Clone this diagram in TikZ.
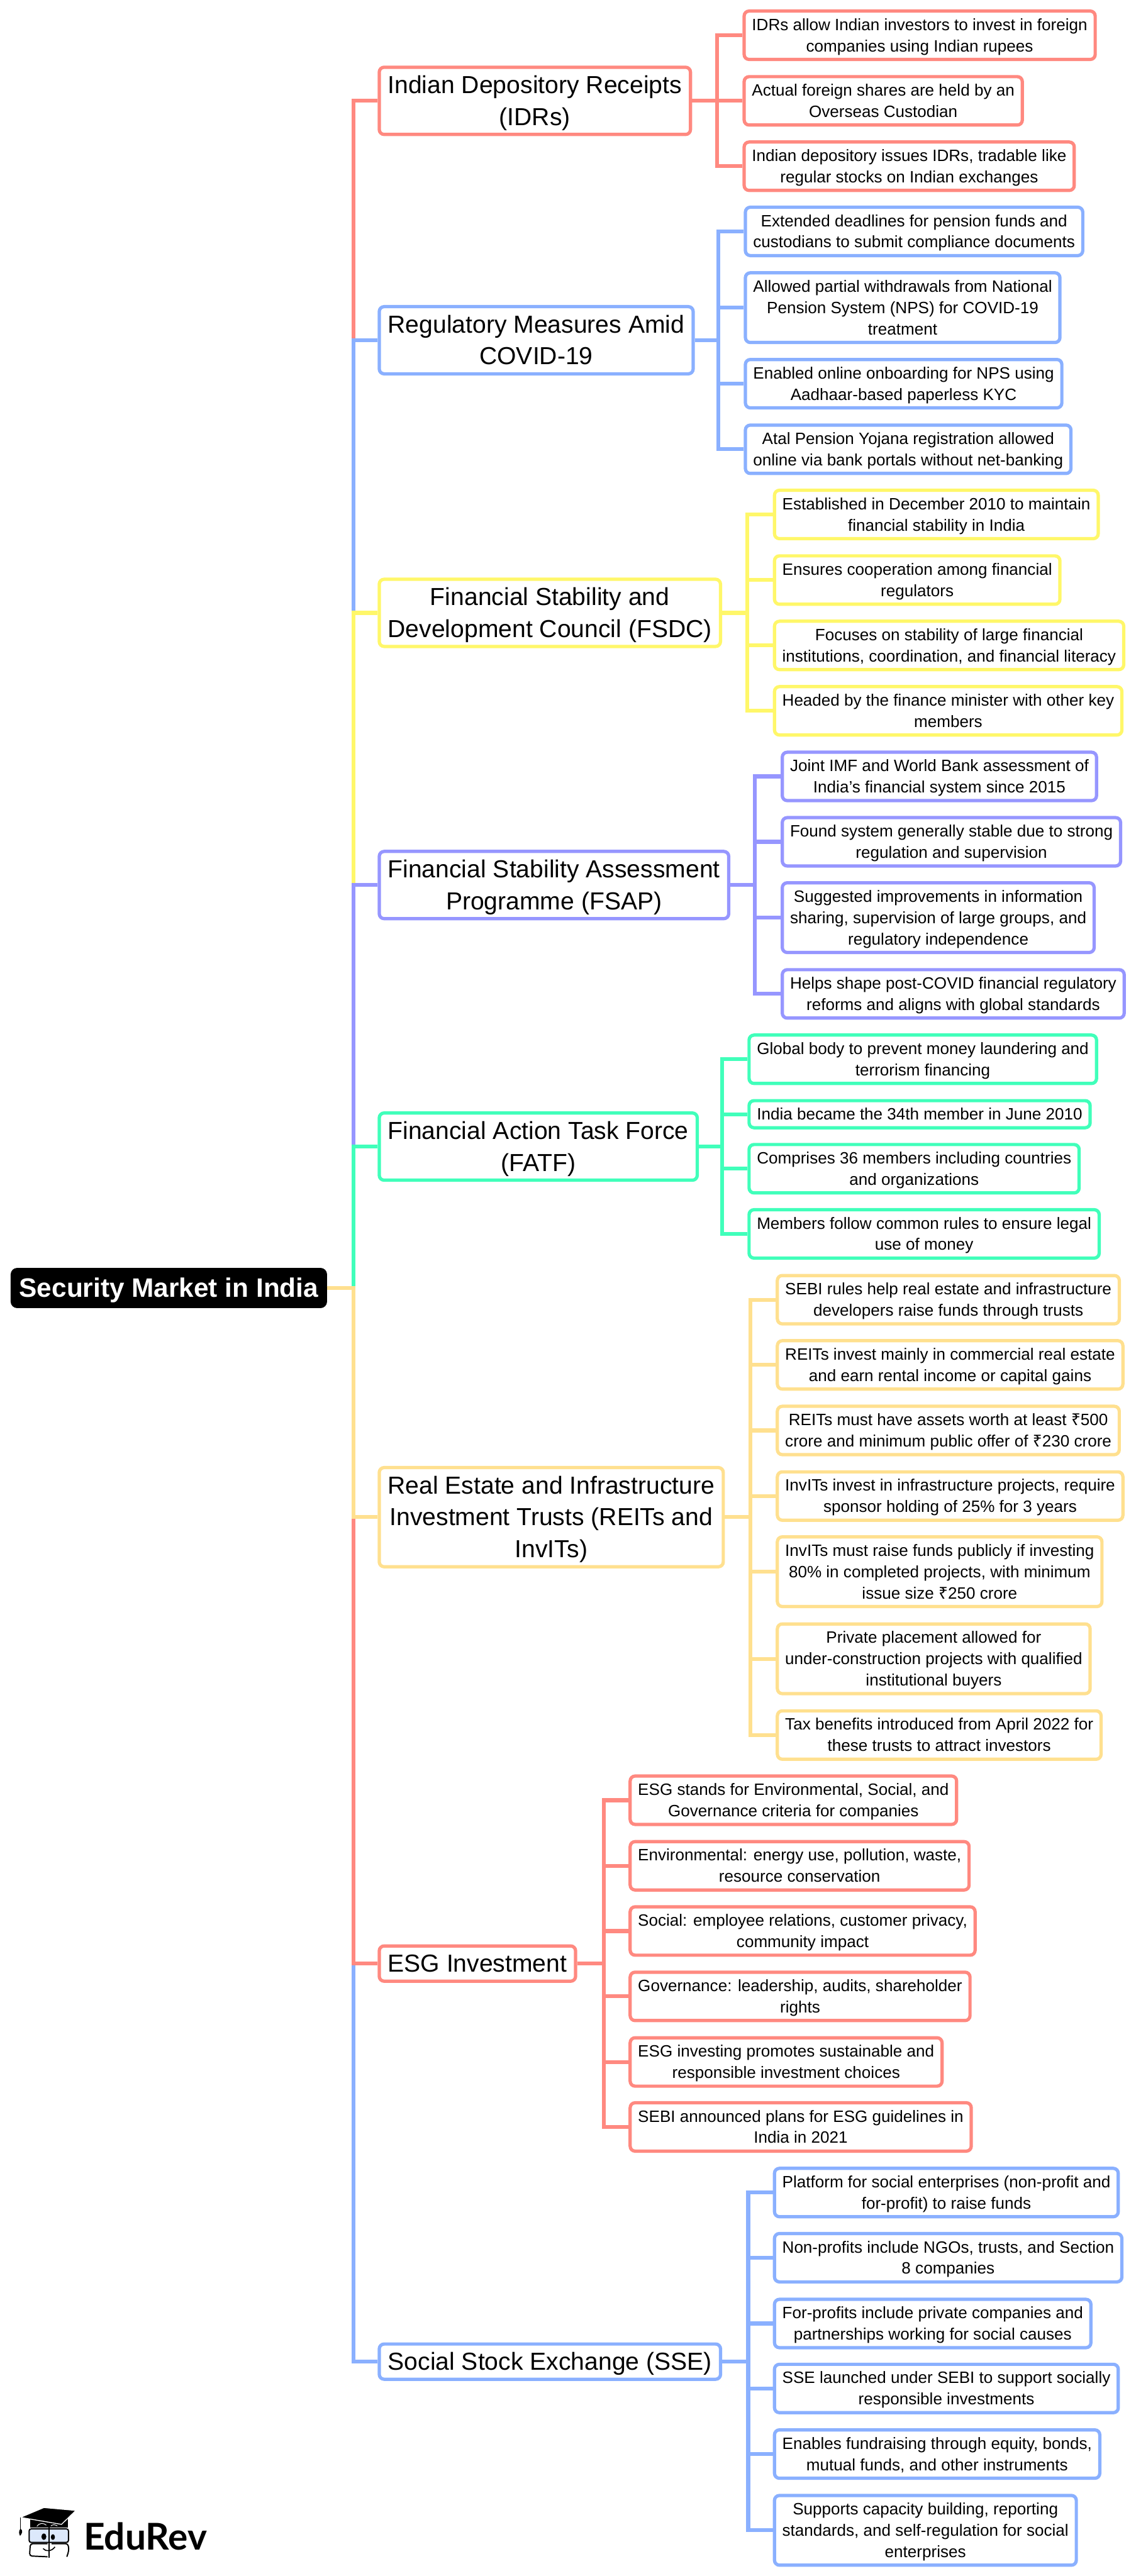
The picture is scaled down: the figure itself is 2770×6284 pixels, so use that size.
\documentclass[tikz,border=0pt]{standalone}
\usepackage{fontspec}
\setmainfont{Liberation Sans}
\newfontfamily\logofont{Lato}
\newfontfamily\rupeefont{Noto Sans}
\usepackage{tikz}
\definecolor{cpink}{RGB}{255,137,128}
\definecolor{cblue}{RGB}{138,176,255}
\definecolor{cyell}{RGB}{255,247,105}
\definecolor{cviol}{RGB}{150,150,255}
\definecolor{cgreen}{RGB}{64,255,186}
\definecolor{cpale}{RGB}{255,224,143}
\definecolor{cglass}{RGB}{220,232,251}
\newcommand{\roots}{\rule[-16.5pt]{0pt}{78pt}}
\newcommand{\tops}{\rule[-18.2pt]{0pt}{78pt}}
\newcommand{\leafs}{\rule[-12.1pt]{0pt}{52pt}}
\newcommand{\rs}{{\rupeefont ₹}}

\begin{document}
\begin{tikzpicture}[x=1pt, y=1pt,
	root/.style={rectangle, rounded corners=12, draw=black, fill=black, text=white, line width=8, anchor=west, align=center, inner xsep=17, inner ysep=6, font=\fontsize{65}{78}\selectfont\bfseries},
	topic/.style={rectangle, rounded corners=12, draw=#1, fill=white, line width=8, anchor=west, align=center, inner xsep=21, inner ysep=4, font=\fontsize{60}{78}\selectfont},
	leaf/.style={rectangle, rounded corners=12, draw=#1, fill=white, line width=8, anchor=west, align=center, inner xsep=19, inner ysep=7, font=\fontsize{40}{52}\selectfont},
	link/.style={draw=#1, line width=9.5}]
	\useasboundingbox (0,0) rectangle (2770,-6284);

	\node[root] (main) at (26,-3142){\roots Security Market in India};
	\coordinate (hub) at (862,-3142);

	\node[topic=cpink] (idr) at (921,-246){\tops Indian Depository Receipts\\(IDRs)\tops};
	\node[topic=cblue] (reg) at (921,-830){\tops Regulatory Measures Amid\\COVID-19\tops};
	\node[topic=cyell] (fsdc) at (921,-1495){\tops Financial Stability and\\Development Council (FSDC)\tops};
	\node[topic=cviol] (fsap) at (921,-2159){\tops Financial Stability Assessment\\Programme (FSAP)\tops};
	\node[topic=cgreen] (fatf) at (921,-2797){\tops Financial Action Task Force\\(FATF)\tops};
	\node[topic=cpale] (reit) at (921,-3701){\tops Real Estate and Infrastructure\\Investment Trusts (REITs and\\InvITs)\tops};
	\node[topic=cpink] (esg) at (921,-4790){\tops ESG Investment};
	\node[topic=cblue] (sse) at (921,-5761){\tops Social Stock Exchange (SSE)};

	\coordinate (jidr) at (1749,-246);
	\coordinate (jreg) at (1752,-830);
	\coordinate (jfsdc) at (1823,-1495);
	\coordinate (jfsap) at (1841,-2159);
	\coordinate (jfatf) at (1761,-2797);
	\coordinate (jreit) at (1830,-3701);
	\coordinate (jesg) at (1473,-4790);
	\coordinate (jsse) at (1825,-5761);

	\node[leaf=cpink] (idra) at (1811,-86){\leafs IDRs allow Indian investors to invest in foreign\\companies using Indian rupees\leafs};
	\node[leaf=cpink] (idrb) at (1811,-246){\leafs Actual foreign shares are held by an\\Overseas Custodian\leafs};
	\node[leaf=cpink] (idrc) at (1811,-405.5){\leafs Indian depository issues IDRs, tradable like\\regular stocks on Indian exchanges\leafs};

	\node[leaf=cblue] (rega) at (1814,-564.5){\leafs Extended deadlines for pension funds and\\custodians to submit compliance documents\leafs};
	\node[leaf=cblue] (regb) at (1814,-750.5){\leafs Allowed partial withdrawals from National\\Pension System (NPS) for COVID-19\\treatment\leafs};
	\node[leaf=cblue] (regc) at (1814,-936){\leafs Enabled online onboarding for NPS using\\Aadhaar-based paperless KYC\leafs};
	\node[leaf=cblue] (regd) at (1814,-1096){\leafs Atal Pension Yojana registration allowed\\online via bank portals without net-banking\leafs};

	\node[leaf=cyell] (fsdca) at (1885,-1255){\leafs Established in December 2010 to maintain\\financial stability in India\leafs};
	\node[leaf=cyell] (fsdcb) at (1885,-1415){\leafs Ensures cooperation among financial\\regulators\leafs};
	\node[leaf=cyell] (fsdcc) at (1885,-1574.5){\leafs Focuses on stability of large financial\\institutions, coordination, and financial literacy\leafs};
	\node[leaf=cyell] (fsdcd) at (1885,-1734){\leafs Headed by the finance minister with other key\\members\leafs};

	\node[leaf=cviol] (fsapa) at (1904,-1894){\leafs Joint IMF and World Bank assessment of\\India's financial system since 2015\leafs};
	\node[leaf=cviol] (fsapb) at (1904,-2053.5){\leafs Found system generally stable due to strong\\regulation and supervision\leafs};
	\node[leaf=cviol] (fsapc) at (1904,-2238.5){\leafs Suggested improvements in information\\sharing, supervision of large groups, and\\regulatory independence\leafs};
	\node[leaf=cviol] (fsapd) at (1904,-2424.5){\leafs Helps shape post-COVID financial regulatory\\reforms and aligns with global standards\leafs};

	\node[leaf=cgreen] (fatfa) at (1823,-2584){\leafs Global body to prevent money laundering and\\terrorism financing\leafs};
	\node[leaf=cgreen] (fatfb) at (1823,-2718){\leafs India became the 34th member in June 2010};
	\node[leaf=cgreen] (fatfc) at (1823,-2851){\leafs Comprises 36 members including countries\\and organizations\leafs};
	\node[leaf=cgreen] (fatfd) at (1823,-3010){\leafs Members follow common rules to ensure legal\\use of money\leafs};

	\node[leaf=cpale] (reita) at (1892,-3170.5){\leafs SEBI rules help real estate and infrastructure\\developers raise funds through trusts\leafs};
	\node[leaf=cpale] (reitb) at (1892,-3329.5){\leafs REITs invest mainly in commercial real estate\\and earn rental income or capital gains\leafs};
	\node[leaf=cpale] (reitc) at (1892,-3489.5){\leafs REITs must have assets worth at least \rs500\\crore and minimum public offer of \rs230 crore\leafs};
	\node[leaf=cpale] (reitd) at (1892,-3649.5){\leafs InvITs invest in infrastructure projects, require\\sponsor holding of 25\% for 3 years\leafs};
	\node[leaf=cpale] (reite) at (1892,-3834){\leafs InvITs must raise funds publicly if investing\\80\% in completed projects, with minimum\\issue size \rs250 crore\leafs};
	\node[leaf=cpale] (reitf) at (1892,-4046.5){\leafs Private placement allowed for\\under-construction projects with qualified\\institutional buyers\leafs};
	\node[leaf=cpale] (reitg) at (1892,-4232.5){\leafs Tax benefits introduced from April 2022 for\\these trusts to attract investors\leafs};

	\node[leaf=cpink] (esga) at (1533,-4391.5){\leafs ESG stands for Environmental, Social, and\\Governance criteria for companies\leafs};
	\node[leaf=cpink] (esgb) at (1533,-4551.5){\leafs Environmental: energy use, pollution, waste,\\resource conservation\leafs};
	\node[leaf=cpink] (esgc) at (1533,-4710.5){\leafs Social: employee relations, customer privacy,\\community impact\leafs};
	\node[leaf=cpink] (esgd) at (1533,-4870){\leafs Governance: leadership, audits, shareholder\\rights\leafs};
	\node[leaf=cpink] (esge) at (1533,-5030){\leafs ESG investing promotes sustainable and\\responsible investment choices\leafs};
	\node[leaf=cpink] (esgf) at (1533,-5188.5){\leafs SEBI announced plans for ESG guidelines in\\India in 2021\leafs};

	\node[leaf=cblue] (ssea) at (1885,-5348.5){\leafs Platform for social enterprises (non-profit and\\for-profit) to raise funds\leafs};
	\node[leaf=cblue] (sseb) at (1885,-5507.5){\leafs Non-profits include NGOs, trusts, and Section\\8 companies\leafs};
	\node[leaf=cblue] (ssec) at (1885,-5668){\leafs For-profits include private companies and\\partnerships working for social causes\leafs};
	\node[leaf=cblue] (ssed) at (1885,-5826.5){\leafs SSE launched under SEBI to support socially\\responsible investments\leafs};
	\node[leaf=cblue] (ssee) at (1885,-5986.5){\leafs Enables fundraising through equity, bonds,\\mutual funds, and other instruments\leafs};
	\node[leaf=cblue] (ssef) at (1885,-6172.5){\leafs Supports capacity building, reporting\\standards, and self-regulation for social\\enterprises\leafs};

	\path[link=cpink] (main.east) -- (hub) |- (idr.west);
	\path[link=cblue] (main.east) -- (hub) |- (reg.west);
	\path[link=cyell] (main.east) -- (hub) |- (fsdc.west);
	\path[link=cviol] (main.east) -- (hub) |- (fsap.west);
	\path[link=cgreen] (main.east) -- (hub) |- (fatf.west);
	\path[link=cblue] (main.east) -- (hub) |- (sse.west);
	\path[link=cpink] (main.east) -- (hub) |- (esg.west);
	\path[link=cpale] (main.east) -- (hub) |- (reit.west);

	\path[link=cpink] (idr.east) -- (jidr) |- (idra.west);
	\path[link=cpink] (idr.east) -- (jidr) |- (idrb.west);
	\path[link=cpink] (idr.east) -- (jidr) |- (idrc.west);

	\path[link=cblue] (reg.east) -- (jreg) |- (rega.west);
	\path[link=cblue] (reg.east) -- (jreg) |- (regb.west);
	\path[link=cblue] (reg.east) -- (jreg) |- (regc.west);
	\path[link=cblue] (reg.east) -- (jreg) |- (regd.west);

	\path[link=cyell] (fsdc.east) -- (jfsdc) |- (fsdca.west);
	\path[link=cyell] (fsdc.east) -- (jfsdc) |- (fsdcb.west);
	\path[link=cyell] (fsdc.east) -- (jfsdc) |- (fsdcc.west);
	\path[link=cyell] (fsdc.east) -- (jfsdc) |- (fsdcd.west);

	\path[link=cviol] (fsap.east) -- (jfsap) |- (fsapa.west);
	\path[link=cviol] (fsap.east) -- (jfsap) |- (fsapb.west);
	\path[link=cviol] (fsap.east) -- (jfsap) |- (fsapc.west);
	\path[link=cviol] (fsap.east) -- (jfsap) |- (fsapd.west);

	\path[link=cgreen] (fatf.east) -- (jfatf) |- (fatfa.west);
	\path[link=cgreen] (fatf.east) -- (jfatf) |- (fatfb.west);
	\path[link=cgreen] (fatf.east) -- (jfatf) |- (fatfc.west);
	\path[link=cgreen] (fatf.east) -- (jfatf) |- (fatfd.west);

	\path[link=cpale] (reit.east) -- (jreit) |- (reita.west);
	\path[link=cpale] (reit.east) -- (jreit) |- (reitb.west);
	\path[link=cpale] (reit.east) -- (jreit) |- (reitc.west);
	\path[link=cpale] (reit.east) -- (jreit) |- (reitd.west);
	\path[link=cpale] (reit.east) -- (jreit) |- (reite.west);
	\path[link=cpale] (reit.east) -- (jreit) |- (reitf.west);
	\path[link=cpale] (reit.east) -- (jreit) |- (reitg.west);

	\path[link=cpink] (esg.east) -- (jesg) |- (esga.west);
	\path[link=cpink] (esg.east) -- (jesg) |- (esgb.west);
	\path[link=cpink] (esg.east) -- (jesg) |- (esgc.west);
	\path[link=cpink] (esg.east) -- (jesg) |- (esgd.west);
	\path[link=cpink] (esg.east) -- (jesg) |- (esge.west);
	\path[link=cpink] (esg.east) -- (jesg) |- (esgf.west);

	\path[link=cblue] (sse.east) -- (jsse) |- (ssea.west);
	\path[link=cblue] (sse.east) -- (jsse) |- (sseb.west);
	\path[link=cblue] (sse.east) -- (jsse) |- (ssec.west);
	\path[link=cblue] (sse.east) -- (jsse) |- (ssed.west);
	\path[link=cblue] (sse.east) -- (jsse) |- (ssee.west);
	\path[link=cblue] (sse.east) -- (jsse) |- (ssef.west);

	\node[anchor=base west, inner sep=0, font=\fontsize{90}{90}\selectfont\logofont\bfseries] (brand) at (204,-6221){EduRev};

	\fill[black] (73,-6145) -- (73,-6166) -- (165,-6166) -- (165,-6145) -- cycle;
	\fill[black, draw=white, line width=2] (50,-6141) -- (107,-6117) -- (185,-6124) -- (150,-6158) -- cycle;
	\draw[black, line width=2] (50,-6141) -- (50,-6169);
	\fill[black] (50,-6168) .. controls (44,-6176) and (47,-6182) .. (49,-6186) .. controls (54,-6180) and (57,-6174) .. (50,-6168) -- cycle;
	\draw[white, line width=1.5] (90,-6163) .. controls (94,-6155) and (106,-6153) .. (113,-6160);
	\draw[white, line width=1.5] (124,-6162) .. controls (128,-6158) and (134,-6158) .. (140,-6162);
	\draw[black, fill=cglass, line width=3, rounded corners=5] (71,-6169) rectangle (167,-6202);
	\draw[black, line width=3, rounded corners=6] (116,-6205) -- (74,-6205) -- (72,-6235) -- (116,-6237);
	\draw[black, line width=3, rounded corners=6] (126,-6205) -- (166,-6205) -- (168,-6222) -- (163,-6237);
	\draw[black, line width=3] (120,-6166) -- (120,-6240);
	\fill[black] (107,-6188) ellipse (6 and 8);
	\fill[black] (129,-6189) ellipse (5 and 7);
	\draw[black, line width=2.5] (105,-6217) .. controls (112,-6225) and (126,-6224) .. (134,-6213);
\end{tikzpicture}
\end{document}
